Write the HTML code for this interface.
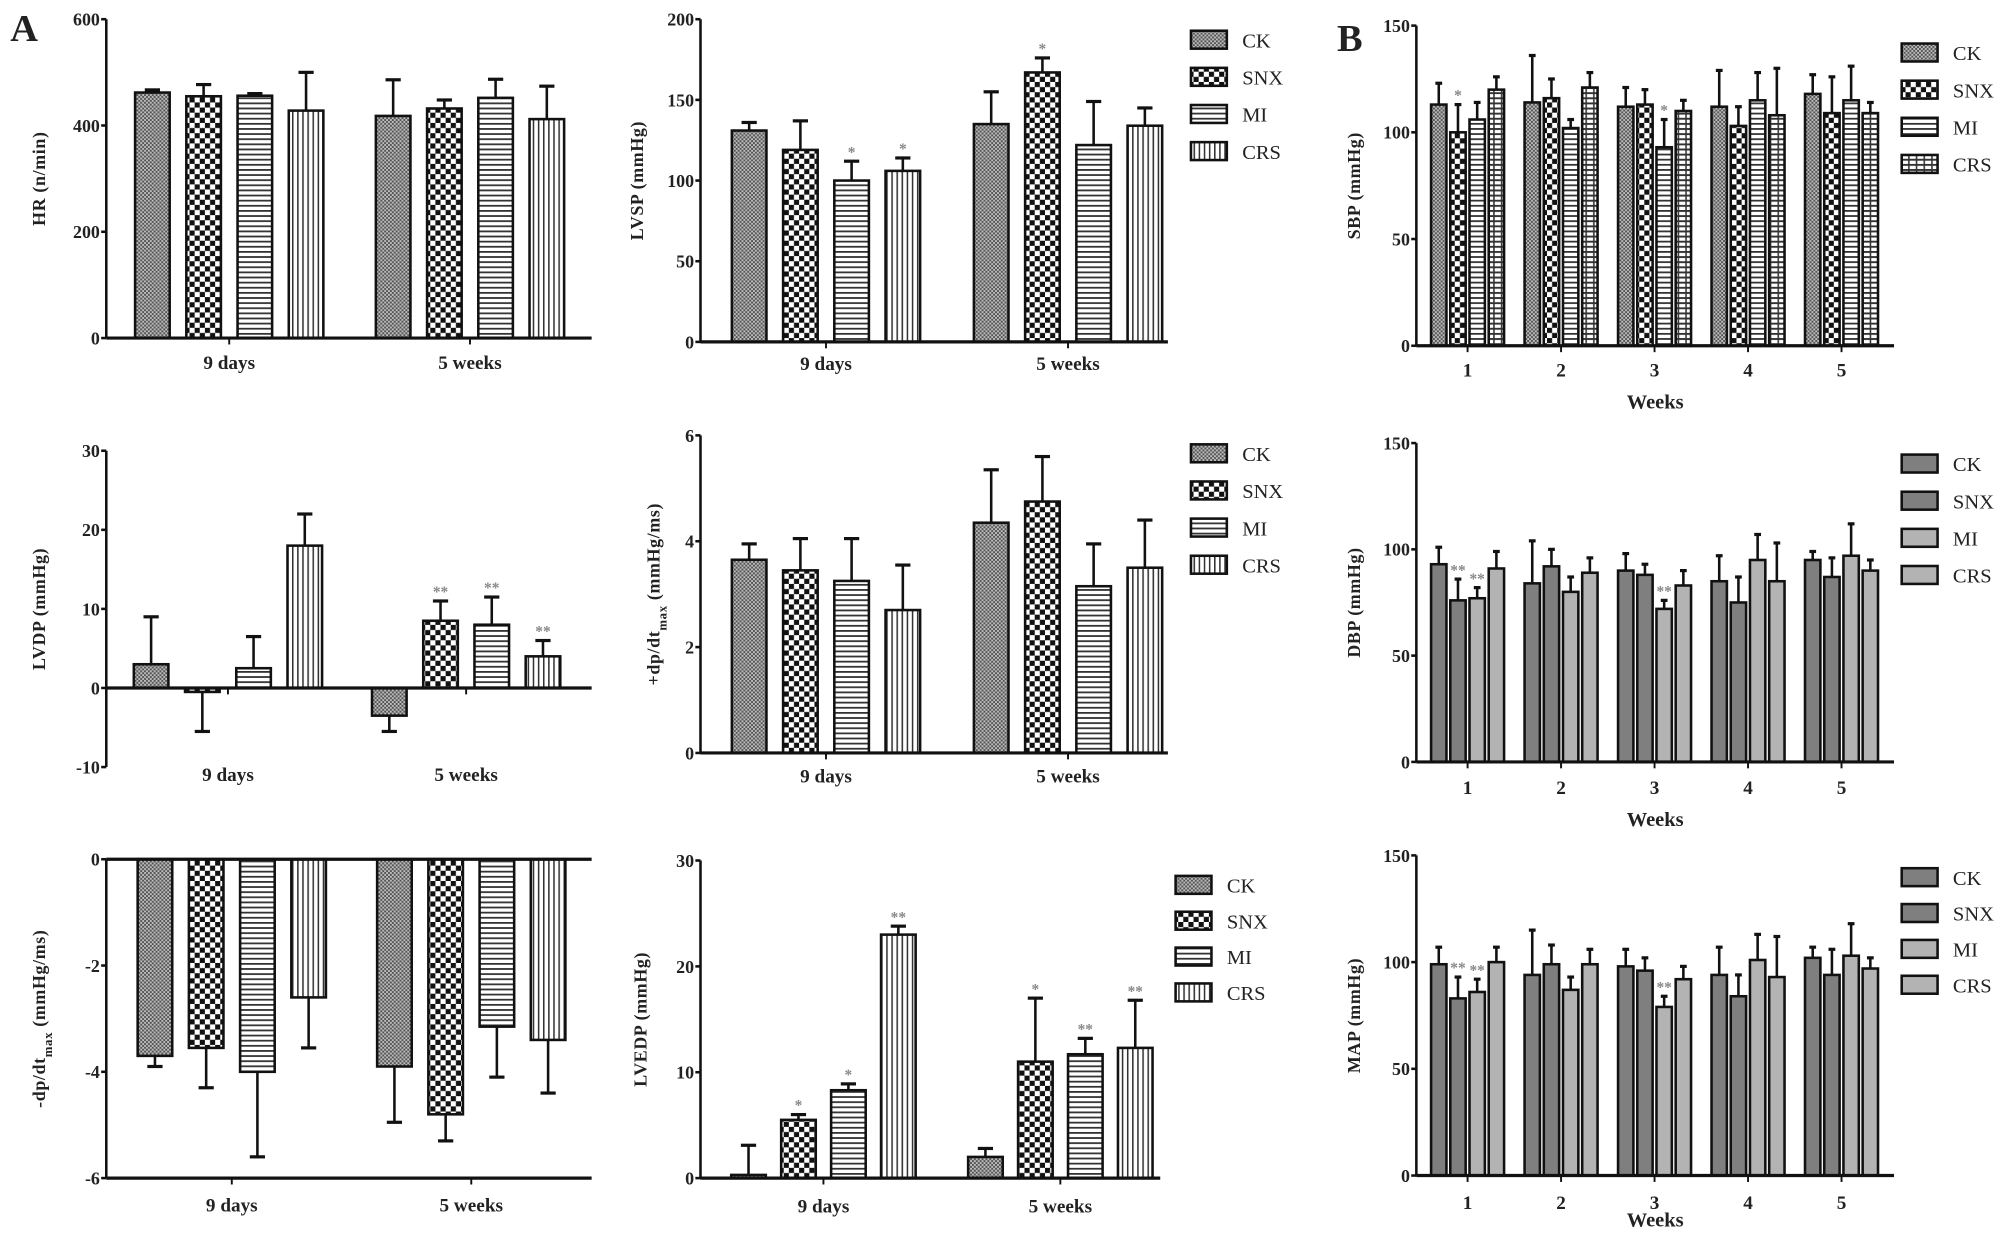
<!DOCTYPE html>
<html><head><meta charset="utf-8"><style>
html,body{margin:0;padding:0;background:#fff;}
svg{display:block;}
text{font-family:"Liberation Serif",serif;font-weight:bold;fill:#222;}
</style></head><body>
<svg id="fig" width="2008" height="1237" viewBox="0 0 1568 966" preserveAspectRatio="none" xmlns="http://www.w3.org/2000/svg">
<defs>
<pattern id="pCK" width="3" height="3" patternUnits="userSpaceOnUse"><rect width="3" height="3" fill="#bbb"/><rect width="1.5" height="1.5" fill="#555"/><rect x="1.5" y="1.5" width="1.5" height="1.5" fill="#555"/></pattern>
<pattern id="pSNX" width="8" height="8" patternUnits="userSpaceOnUse"><rect width="8" height="8" fill="#fff"/><rect width="4" height="4" fill="#111"/><rect x="4" y="4" width="4" height="4" fill="#111"/></pattern>
<pattern id="pMI" width="4" height="4" patternUnits="userSpaceOnUse"><rect width="4" height="4" fill="#fff"/><rect width="4" height="1.4" fill="#333"/></pattern>
<pattern id="pCRS" width="4" height="4" patternUnits="userSpaceOnUse"><rect width="4" height="4" fill="#fff"/><rect width="1.2" height="4" fill="#333"/></pattern>
<pattern id="pCRSb" width="6" height="4" patternUnits="userSpaceOnUse"><rect width="6" height="4" fill="#fff"/><rect width="6" height="1.5" fill="#333"/><rect x="2" width="1.2" height="4" fill="#333"/></pattern>
</defs>
<text x="8" y="32" style="font-size:30px">A</text>
<text x="1044" y="40" style="font-size:30px">B</text>
</svg>
<script>
const groupsA = ["9 days", "5 weeks"];
const seriesNames = ["CK", "SNX", "MI", "CRS"];
const hrMean = [[462,455,456,428],[418,432,452,412]];
const hrErr = [[5,22,4,72],[68,16,35,62]];
const hrTicks = [0,200,400,600];
const lvspMean = [[131,119,100,106],[135,167,122,134]];
const lvspErr = [[5,18,12,8],[20,9,27,11]];
const lvspSig = [["","","*","*"],["","*","",""]];
const lvspTicks = [0,50,100,150,200];
const lvdpMean = [[3,-0.5,2.5,18],[-3.5,8.5,8,4]];
const lvdpErr = [[6,5,4,4],[2,2.5,3.5,2]];
const lvdpSig = [["","","",""],["","**","**","**"]];
const lvdpTicks = [-10,0,10,20,30];
const dpMean = [[3.65,3.45,3.25,2.7],[4.35,4.75,3.15,3.5]];
const dpErr = [[0.3,0.6,0.8,0.85],[1.0,0.85,0.8,0.9]];
const dpTicks = [0,2,4,6];
const mdpMean = [[-3.7,-3.55,-4,-2.6],[-3.9,-4.8,-3.15,-3.4]];
const mdpErr = [[0.2,0.75,1.6,0.95],[1.05,0.5,0.95,1.0]];
const mdpTicks = [-6,-4,-2,0];
const lvedpMean = [[0.3,5.5,8.3,23],[2,11,11.7,12.3]];
const lvedpErr = [[2.8,0.5,0.6,0.8],[0.8,6,1.5,4.5]];
const lvedpSig = [["","*","*","**"],["","*","**","**"]];
const lvedpTicks = [0,10,20,30];
const weeks = ["1","2","3","4","5"];
const sbpMean = [[113,100,106,120],[114,116,102,121],[112,113,93,110],[112,103,115,108],[118,109,115,109]];
const sbpErr = [[10,13,8,6],[22,9,4,7],[9,7,13,5],[17,9,13,22],[9,17,16,5]];
const sbpSig = [["","*","",""],["","","",""],["","","*",""],["","","",""],["","","",""]];
const dbpMean = [[93,76,77,91],[84,92,80,89],[90,88,72,83],[85,75,95,85],[95,87,97,90]];
const dbpErr = [[8,10,5,8],[20,8,7,7],[8,5,4,7],[12,12,12,18],[4,9,15,5]];
const dbpSig = [["","**","**",""],["","","",""],["","","**",""],["","","",""],["","","",""]];
const mapMean = [[99,83,86,100],[94,99,87,99],[98,96,79,92],[94,84,101,93],[102,94,103,97]];
const mapErr = [[8,10,6,7],[21,9,6,7],[8,6,5,6],[13,10,12,19],[5,12,15,5]];
const mapSig = [["","**","**",""],["","","",""],["","","**",""],["","","",""],["","","",""]];
const bpTicks = [0,50,100,150];

const NS="http://www.w3.org/2000/svg";
const svg=document.getElementById('fig');
function el(tag,attrs,parent){const e=document.createElementNS(NS,tag);for(const k in attrs)e.setAttribute(k,attrs[k]);(parent||svg).appendChild(e);return e;}

function chart(cfg){
  const g=el('g',{});
  
  
  const [dmin,dmax]=cfg.domain;
  const y=v=>cfg.yBot+(v-dmin)/(dmax-dmin)*(cfg.yTop-cfg.yBot);
  const n=cfg.mean.length;
  const gx=i=>cfg.gc ? cfg.gc[0]+i*(cfg.gc[1]-cfg.gc[0]) : cfg.x0+cfg.pad+(i+0.5)*(cfg.x1-cfg.x0-2*cfg.pad)/n;
  cfg.mean.forEach((grp,i)=>{
    grp.forEach((v,j)=>{
      const cx=gx(i)+(j-1.5)*cfg.step;
      const w=cfg.bw;
      const ya=y(0), yb=y(v);
      const e=cfg.err[i][j];
      const ye=y(v+(v<0?-e:e));
      const ln=el('line',{x1:cx,x2:cx,y1:yb,y2:ye,stroke:'#111','stroke-width':2},g);
      
      
      const cap=el('line',{x1:cx-w*0.22,x2:cx+w*0.22,y1:ye,y2:ye,stroke:'#111','stroke-width':2.5},g);
      
      
      const r=el('rect',{x:cx-w/2,y:Math.min(ya,yb),width:w,height:Math.max(1,Math.abs(ya-yb)),fill:cfg.fills[j],stroke:'#111','stroke-width':2},g);
      
      
      if(cfg.sig && cfg.sig[i][j]){
        const t=el('text',{x:cx,y:ye-3,'text-anchor':'middle',style:'font-size:12px;fill:#888'},g);
        t.textContent=cfg.sig[i][j];
        
        
      }
    });
  });
  const ya=el('line',{x1:cfg.x0,x2:cfg.x0,y1:y(cfg.ticks[0]),y2:y(cfg.ticks[cfg.ticks.length-1]),stroke:'#111','stroke-width':2},g);
  
  
  cfg.ticks.forEach(t=>{
    el('line',{x1:cfg.x0-4,x2:cfg.x0,y1:y(t),y2:y(t),stroke:'#111','stroke-width':2},g);
    const tx=el('text',{x:cfg.x0-5,y:y(t)+5,'text-anchor':'end',style:'font-size:14px'},g);
    tx.textContent=t;
    
    
  });
  const xaY=y(cfg.xAxisAt);
  const xa=el('line',{x1:cfg.x0,x2:cfg.x1,y1:xaY,y2:xaY,stroke:'#111','stroke-width':2.5},g);
  
  
  if(cfg.bottomLine!==undefined){
    const bl=el('line',{x1:cfg.x0,x2:cfg.x1,y1:y(cfg.bottomLine),y2:y(cfg.bottomLine),stroke:'#111','stroke-width':2.5},g);
    
    
  }
  const tickBase=cfg.bottomLine!==undefined?y(cfg.bottomLine):xaY;
  cfg.cats.forEach((c,i)=>{
    el('line',{x1:gx(i),x2:gx(i),y1:tickBase,y2:tickBase+5,stroke:'#111','stroke-width':1.5},g);
    const tx=el('text',{x:gx(i),y:cfg.labY,'text-anchor':'middle',style:'font-size:15px'},g);
    tx.textContent=c;
    
    
  });
  if(cfg.xTitle){
    const tx=el('text',{x:(cfg.x0+cfg.x1)/2,y:cfg.xTitleY,'text-anchor':'middle',style:'font-size:16px'},g);
    tx.textContent=cfg.xTitle;
    
    
  }
  const ymid=(cfg.yTop+cfg.yBot)/2;
  const yt=el('text',{x:0,y:0,'text-anchor':'middle',transform:`translate(${cfg.titleX},${ymid}) rotate(-90)`,style:'font-size:14px;letter-spacing:0.5px'},g);
  yt.innerHTML=cfg.yTitle;
  
  
  if(cfg.legend){
    seriesNames.forEach((s,j)=>{
      const ly=cfg.legend.y+j*cfg.legend.dy;
      const r=el('rect',{x:cfg.legend.x,y:ly-7,width:28,height:14,fill:cfg.fills[j],stroke:'#111','stroke-width':2},g);
      
      
      const t=el('text',{x:cfg.legend.x+40,y:ly+6,style:'font-size:16px;font-weight:normal'},g);
      t.textContent=s;
      
      
    });
  }
}
const pat=['url(#pCK)','url(#pSNX)','url(#pMI)','url(#pCRS)'];
const patB=['url(#pCK)','url(#pSNX)','url(#pMI)','url(#pCRSb)'];
const gray=['#7f7f7f','#7f7f7f','#b3b3b3','#b3b3b3'];
const A1={x0:83,x1:462,pad:6,step:40,bw:27};
const A2={x0:547,x1:912,pad:6,step:40,bw:27};

chart(Object.assign({},A1,{name:'hr-chart',gc:[179,367],cats:groupsA,mean:hrMean,err:hrErr,ticks:hrTicks,domain:[0,600],yTop:15,yBot:264,xAxisAt:0,labY:288,titleX:35,yTitle:'HR (n/min)',fills:pat}));
chart(Object.assign({},A2,{name:'lvsp-chart',gc:[645,834],cats:groupsA,mean:lvspMean,err:lvspErr,sig:lvspSig,ticks:lvspTicks,domain:[0,200],yTop:15,yBot:267,xAxisAt:0,labY:289,titleX:502,yTitle:'LVSP (mmHg)',fills:pat,legend:{x:930,y:31,dy:29}}));
chart(Object.assign({},A1,{name:'lvdp-chart',gc:[178,364],cats:groupsA,mean:lvdpMean,err:lvdpErr,sig:lvdpSig,ticks:lvdpTicks,domain:[-10,30],yTop:352,yBot:599,xAxisAt:0,labY:610,titleX:35,yTitle:'LVDP (mmHg)',fills:pat}));
chart(Object.assign({},A2,{name:'dpdt-max-chart',gc:[645,834],cats:groupsA,mean:dpMean,err:dpErr,ticks:dpTicks,domain:[0,6],yTop:340,yBot:588,xAxisAt:0,labY:611,titleX:515,yTitle:'+dp/dt<tspan baseline-shift="sub" style="font-size:10px">max</tspan> (mmHg/ms)',fills:pat,legend:{x:930,y:354,dy:29}}));
chart(Object.assign({},A1,{name:'neg-dpdt-max-chart',gc:[181,368],cats:groupsA,mean:mdpMean,err:mdpErr,ticks:mdpTicks,domain:[-6,0],yTop:671,yBot:920,xAxisAt:0,bottomLine:-6,labY:946,titleX:35,yTitle:'-dp/dt<tspan baseline-shift="sub" style="font-size:10px">max</tspan> (mmHg/ms)',fills:pat}));
chart(Object.assign({},A2,{name:'lvedp-chart',gc:[643,828],step:39,x1:906,cats:groupsA,mean:lvedpMean,err:lvedpErr,sig:lvedpSig,ticks:lvedpTicks,domain:[0,30],yTop:672,yBot:920,xAxisAt:0,labY:947,titleX:505,yTitle:'LVEDP (mmHg)',fills:pat,legend:{x:918,y:691,dy:28}}));
const B={x0:1106,x1:1479,pad:2,step:15,bw:12,gc:[1146,1219]};
chart(Object.assign({},B,{name:'sbp-chart',cats:weeks,mean:sbpMean,err:sbpErr,sig:sbpSig,ticks:bpTicks,domain:[0,150],yTop:20,yBot:270,xAxisAt:0,labY:294,xTitle:'Weeks',xTitleY:319,titleX:1062,yTitle:'SBP (mmHg)',fills:patB,legend:{x:1485,y:41,dy:29}}));
chart(Object.assign({},B,{name:'dbp-chart',cats:weeks,mean:dbpMean,err:dbpErr,sig:dbpSig,ticks:bpTicks,domain:[0,150],yTop:346,yBot:595,xAxisAt:0,labY:620,xTitle:'Weeks',xTitleY:645,titleX:1062,yTitle:'DBP (mmHg)',fills:gray,legend:{x:1485,y:362,dy:29}}));
chart(Object.assign({},B,{name:'map-chart',cats:weeks,mean:mapMean,err:mapErr,sig:mapSig,ticks:bpTicks,domain:[0,150],yTop:668,yBot:918,xAxisAt:0,labY:944,xTitle:'Weeks',xTitleY:958,titleX:1062,yTitle:'MAP (mmHg)',fills:gray,legend:{x:1485,y:685,dy:28}}));
</script>
</body></html>
